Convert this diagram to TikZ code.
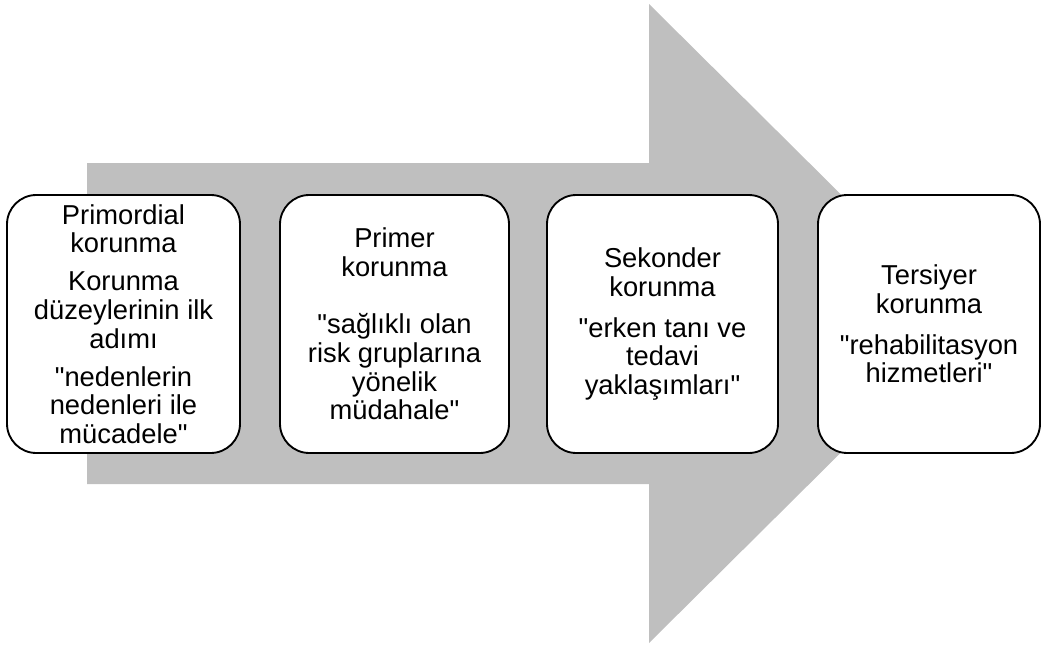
\documentclass[tikz,border=0pt]{standalone}
\usepackage{fontspec}
\setmainfont{Liberation Sans}[Ligatures=TeXOff]

\begin{document}
\begin{tikzpicture}[x=0.75pt, y=-0.75pt,
  level/.style={draw=black, line width=1.4pt, rounded corners=22pt, fill=white,
    minimum height=193.5pt, align=center, inner sep=0pt,
    font=\fontsize{20.5}{21.5}\selectfont}]
\useasboundingbox (0,0) rectangle (1041,646);

\fill[gray!50] (87,163) -- (649,163) -- (649,4) -- (971,323.5) -- (649,643) -- (649,484) -- (87,484) -- cycle;

\node[level, minimum width=174.75pt] (primordial) at (123.5,324) {Primordial\\korunma\\[7pt]Korunma\\düzeylerinin ilk\\adımı\\[7pt]"nedenlerin\\nedenleri ile\\mücadele"};
\node[level, minimum width=171.75pt] (primer) at (394.5,324) {Primer\\korunma\\[21.5pt]"sağlıklı olan\\risk gruplarına\\yönelik\\müdahale"};
\node[level, minimum width=173.25pt] (sekonder) at (662.5,324) {Sekonder\\korunma\\[9pt]"erken tanı ve\\tedavi\\yaklaşımları"};
\node[level, minimum width=166.5pt] (tersiyer) at (929,324) {Tersiyer\\korunma\\[9pt]"rehabilitasyon\\hizmetleri"};
\end{tikzpicture}
\end{document}
